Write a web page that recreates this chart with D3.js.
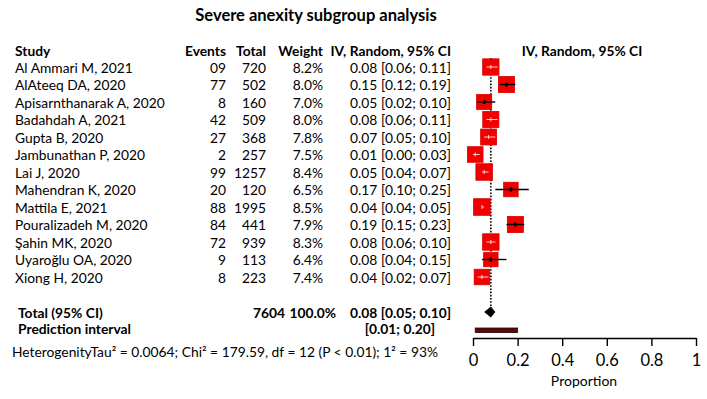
<!DOCTYPE html>
<html>
<head>
<meta charset="utf-8">
<script src="https://cdn.jsdelivr.net/npm/d3@7"></script>
<style>
  body { margin: 0; background: #fff; }
  text { font-family: Lato, "Open Sans", sans-serif; fill: #000; }
</style>
</head>
<body>
<div id="forest"></div>
<script>
// study rows
var studies = ["Al Ammari M, 2021", "AlAteeq DA, 2020", "Apisarnthanarak A, 2020", "Badahdah A, 2021",
  "Gupta B, 2020", "Jambunathan P, 2020", "Lai J, 2020", "Mahendran K, 2020", "Mattila E, 2021",
  "Pouralizadeh M, 2020", "Şahin MK, 2020", "Uyaroğlu OA, 2020", "Xiong H, 2020"];
var events = ["09", "77", "8", "42", "27", "2", "99", "20", "88", "84", "72", "9", "8"];
var totals = [720, 502, 160, 509, 368, 257, 1257, 120, 1995, 441, 939, 113, 223];
var weights = [8.2, 8.0, 7.0, 8.0, 7.8, 7.5, 8.4, 6.5, 8.5, 7.9, 8.3, 6.4, 7.4];
var est = [0.08, 0.15, 0.05, 0.08, 0.07, 0.01, 0.05, 0.17, 0.04, 0.19, 0.08, 0.08, 0.04];
var lower = [0.06, 0.12, 0.02, 0.06, 0.05, 0.00, 0.04, 0.10, 0.04, 0.15, 0.06, 0.04, 0.02];
var upper = [0.11, 0.19, 0.10, 0.11, 0.10, 0.03, 0.07, 0.25, 0.05, 0.23, 0.10, 0.15, 0.07];

var pooled = {est: 0.08, lower: 0.05, upper: 0.10, total: 7604};
var predInterval = [0.01, 0.20];
var axisTicks = [0, 0.2, 0.4, 0.6, 0.8, 1];

var w = 707, h = 399;

var svg = d3.select("#forest").append("svg")
  .attr("width", w)
  .attr("height", h);

var x = d3.scaleLinear().domain([0, 1]).range([473, 696]);
var row = d3.scaleLinear().domain([0, 12]).range([67, 277]);

var fmt = d3.format(".2f");
function ciText(e, l, u) { return fmt(e) + " [" + fmt(l) + "; " + fmt(u) + "]"; }

var fs = 13.8;

// title
svg.append("text")
  .attr("x", 316).attr("y", 21)
  .attr("text-anchor", "middle")
  .style("font-weight", "bold").style("font-size", "16.5px")
  .text("Severe anexity subgroup analysis");

// column headers
var headers = [
  {t: "Study", x: 15, a: "start"},
  {t: "Events", x: 226, a: "end"},
  {t: "Total", x: 266, a: "end"},
  {t: "Weight", x: 323, a: "end"},
  {t: "IV, Random, 95% CI", x: 451, a: "end"},
  {t: "IV, Random, 95% CI", x: 582, a: "middle"}
];
svg.selectAll("text.hdr")
  .data(headers)
  .enter().append("text")
  .attr("class", "hdr")
  .attr("x", function(d){ return d.x; })
  .attr("y", 56)
  .attr("text-anchor", function(d){ return d.a; })
  .style("font-weight", "bold").style("font-size", fs + "px")
  .text(function(d){ return d.t; });

// table rows
var rows = svg.selectAll("g.row")
  .data(studies)
  .enter().append("g")
  .attr("class", "row")
  .attr("transform", function(d, i){ return "translate(0," + (row(i) + 5.5) + ")"; });

rows.append("text").attr("x", 15).style("font-size", fs + "px").text(function(d){ return d; });
rows.append("text").attr("x", 226).attr("text-anchor", "end").style("font-size", fs + "px")
  .text(function(d, i){ return events[i]; });
rows.append("text").attr("x", 266).attr("text-anchor", "end").style("font-size", fs + "px")
  .text(function(d, i){ return totals[i]; });
rows.append("text").attr("x", 323).attr("text-anchor", "end").style("font-size", fs + "px")
  .text(function(d, i){ return weights[i].toFixed(1) + "%"; });
rows.append("text").attr("x", 451).attr("text-anchor", "end").style("font-size", fs + "px")
  .text(function(d, i){ return ciText(est[i], lower[i], upper[i]); });

// pooled rows
var yTotal = 318, yPred = 334;
svg.append("text").attr("x", 18).attr("y", yTotal).style("font-weight", "bold").style("font-size", fs + "px")
  .text("Total (95% CI)");
svg.append("text").attr("x", 285).attr("y", yTotal).attr("text-anchor", "end")
  .style("font-weight", "bold").style("font-size", fs + "px").text(pooled.total);
svg.append("text").attr("x", 336).attr("y", yTotal).attr("text-anchor", "end")
  .style("font-weight", "bold").style("font-size", fs + "px").text("100.0%");
svg.append("text").attr("x", 451).attr("y", yTotal).attr("text-anchor", "end")
  .style("font-weight", "bold").style("font-size", fs + "px")
  .text(ciText(pooled.est, pooled.lower, pooled.upper));
svg.append("text").attr("x", 18).attr("y", yPred).style("font-weight", "bold").style("font-size", fs + "px")
  .text("Prediction interval");
svg.append("text").attr("x", 435).attr("y", yPred).attr("text-anchor", "end")
  .style("font-weight", "bold").style("font-size", fs + "px")
  .text("[" + fmt(predInterval[0]) + "; " + fmt(predInterval[1]) + "]");

svg.append("text").attr("x", 12).attr("y", 357).style("font-size", fs + "px")
  .text("HeterogenityTau\u00b2 = 0.0064; Chi\u00b2 = 179.59, df = 12 (P < 0.01); 1\u00b2 = 93%");

// dotted line at pooled estimate
svg.append("line")
  .attr("x1", x(pooled.est)).attr("x2", x(pooled.est))
  .attr("y1", row(0) - 9).attr("y2", 312)
  .attr("stroke", "#000").attr("stroke-width", 1.6)
  .attr("stroke-dasharray", "1.6,1.6");

// squares, sized by weight
var side = function(i){ return 5.7 * Math.sqrt(weights[i]); };
var plot = svg.append("g").attr("class", "marks");

plot.selectAll("rect.sq")
  .data(studies)
  .enter().append("rect")
  .attr("class", "sq")
  .attr("x", function(d, i){ return x(est[i]) - side(i) / 2; })
  .attr("y", function(d, i){ return row(i) - side(i) / 2; })
  .attr("width", function(d, i){ return side(i); })
  .attr("height", function(d, i){ return side(i); })
  .attr("fill", "#f20000")
  .attr("stroke", "#d80000").attr("stroke-width", 0.8);

// CI whiskers, white where they sit inside the square
function inside(i) {
  var half = side(i) / 2;
  return x(lower[i]) >= x(est[i]) - half && x(upper[i]) <= x(est[i]) + half;
}
plot.selectAll("line.ci")
  .data(studies)
  .enter().append("line")
  .attr("class", "ci")
  .attr("x1", function(d, i){ return x(lower[i]); })
  .attr("x2", function(d, i){ return x(upper[i]); })
  .attr("y1", function(d, i){ return row(i); })
  .attr("y2", function(d, i){ return row(i); })
  .attr("stroke", function(d, i){ return inside(i) ? "#fff" : "#000"; })
  .attr("stroke-width", function(d, i){ return inside(i) ? 0.8 : 1.4; });

plot.selectAll("line.pt")
  .data(studies)
  .enter().append("line")
  .attr("class", "pt")
  .attr("x1", function(d, i){ return x(est[i]); })
  .attr("x2", function(d, i){ return x(est[i]); })
  .attr("y1", function(d, i){ return row(i) - 2; })
  .attr("y2", function(d, i){ return row(i) + 2; })
  .attr("stroke", function(d, i){ return inside(i) ? "#fff" : "#000"; })
  .attr("stroke-width", function(d, i){ return inside(i) ? 0.8 : 2.5; });

// pooled diamond
var yDia = 312;
svg.append("path")
  .attr("d", "M" + x(pooled.lower) + "," + yDia +
             "L" + x(pooled.est) + "," + (yDia - 5.5) +
             "L" + x(pooled.upper) + "," + yDia +
             "L" + x(pooled.est) + "," + (yDia + 5.5) + "Z")
  .attr("fill", "#000");

// prediction interval bar
svg.append("rect")
  .attr("x", x(predInterval[0]))
  .attr("y", 328)
  .attr("width", x(predInterval[1]) - x(predInterval[0]))
  .attr("height", 4.5)
  .attr("fill", "#5a0a0a")
  .attr("stroke", "#2a0000").attr("stroke-width", 0.8);

// x axis
var xAxis = d3.axisBottom(x)
  .tickValues(axisTicks)
  .tickFormat(function(d){ return d === 0 || d === 1 ? d : d.toFixed(1); })
  .tickSize(8)
  .tickSizeOuter(0);

var gX = svg.append("g")
  .attr("class", "x axis")
  .attr("transform", "translate(0,338)")
  .call(xAxis);
gX.select(".domain").attr("stroke", "#000").attr("stroke-width", 1.4);
gX.selectAll(".tick line").attr("stroke", "#000").attr("stroke-width", 1.4);
gX.selectAll(".tick text")
  .attr("dy", "1.0em")
  .style("font-family", "Lato, sans-serif").style("font-size", "16.5px").attr("fill", "#000");

svg.append("text")
  .attr("x", 584).attr("y", 386)
  .attr("text-anchor", "middle")
  .style("font-size", "14px")
  .text("Proportion");
</script>
</body>
</html>
